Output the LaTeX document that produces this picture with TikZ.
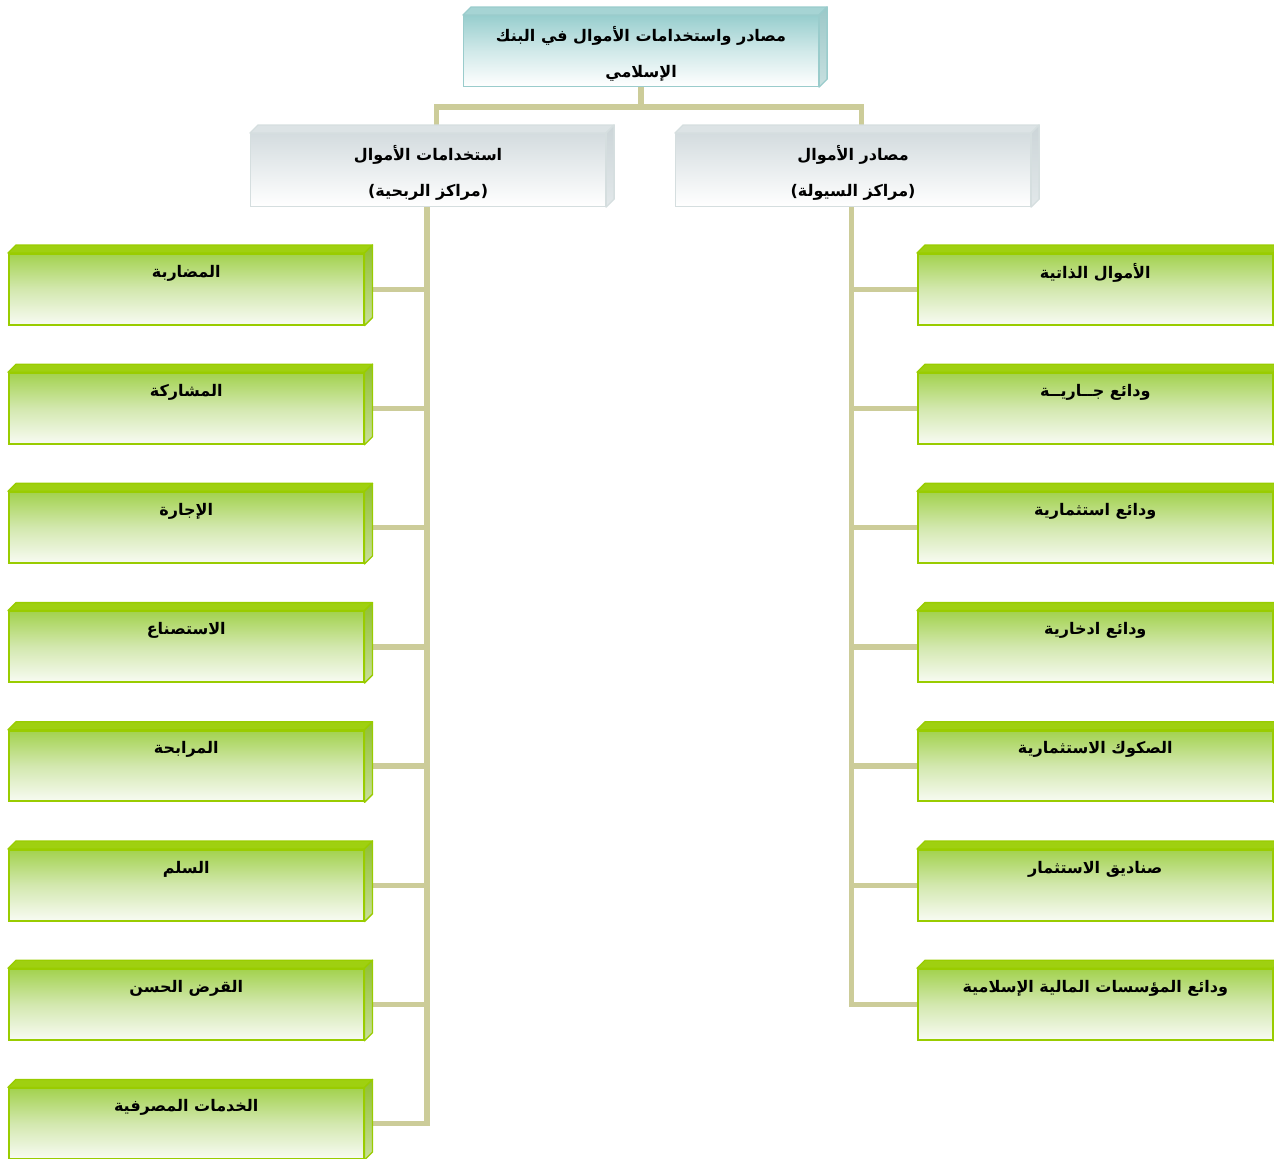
\documentclass[tikz,border=0pt]{standalone}
\usepackage{fontspec}
\newfontfamily\arabicfont[Script=Arabic]{DejaVu Sans}
\TeXXeTstate=1
\pgfdeclarelayer{background}
\pgfsetlayers{background,main}

\definecolor{conncol}{HTML}{CCCC99}
% teal heading box
\definecolor{tfront}{HTML}{98CECE}
\definecolor{ttop}{HTML}{A6D4D4}
\definecolor{tside1}{HTML}{9CC8C8}
\definecolor{tside2}{HTML}{C8E0E0}
\definecolor{tborder}{HTML}{9ACCCC}
% grey second-level boxes
\definecolor{sfront}{HTML}{D4DCDF}
\definecolor{stop}{HTML}{DCE3E5}
\definecolor{sside1}{HTML}{CCD5D8}
\definecolor{sside2}{HTML}{E2E8EA}
\definecolor{sborder}{HTML}{D5DEDF}
% green leaf boxes
\definecolor{gfront}{HTML}{A3D24F}
\definecolor{gmid}{HTML}{D3E8AF}
\definecolor{gbottom}{HTML}{F8FBF3}
\definecolor{gtop}{HTML}{9FD010}
\definecolor{gside1}{HTML}{8FC030}
\definecolor{gside2}{HTML}{C9DF9C}
\definecolor{gborder}{HTML}{99CC00}

\newcommand\artext[1]{\beginR #1\endR}

% top and right faces of a bevelled box
\newcommand\bevelfaces[5]{%
  \filldraw[fill=#3, draw=#2, line width=1pt, line join=round]
    (#1.north west) -- ([shift={(6pt,6pt)}]#1.north west)
    -- ([shift={(6pt,6pt)}]#1.north east) -- (#1.north east) -- cycle;
  \shade[top color=#4, bottom color=#5, draw=#2, line width=1pt, line join=round]
    (#1.north east) -- ([shift={(6pt,6pt)}]#1.north east)
    -- ([shift={(6pt,6pt)}]#1.south east) -- (#1.south east) -- cycle;
}

\tikzset{
  conn/.style={draw=conncol, line width=4pt},
  facebox/.style={anchor=north west, inner sep=0pt, line width=1.1pt,
    minimum width=266pt, minimum height=53pt},
  headbox/.style={facebox, draw=tborder, top color=tfront, bottom color=white,
    middle color=tfront!45!white},
  midbox/.style={facebox, draw=sborder, top color=sfront, bottom color=white,
    middle color=sfront!50!white, minimum height=54.5pt},
  leafbox/.style={facebox, draw=gborder, line width=1.4pt, top color=gfront,
    bottom color=gbottom, middle color=gmid},
  btext/.style={font=\arabicfont\bfseries\fontsize{12}{26.5}\selectfont,
    align=center, text=black, inner sep=0pt},
}

\begin{document}
\begin{tikzpicture}[x=0.75pt, y=-0.75pt]
\useasboundingbox (0,0) rectangle (1274,1158);
\clip (0,0) rectangle (1274,1158);

% heading
\node[headbox] (head) at (463,15) {};
\bevelfaces{head}{tborder}{ttop}{tside1}{tside2}

% second level
\node[midbox] (uses) at (250,133) {};
\bevelfaces{uses}{sborder}{stop}{sside1}{sside2}
\node[midbox] (srcs) at (675,133) {};
\bevelfaces{srcs}{sborder}{stop}{sside1}{sside2}

% leaf boxes: uses of funds (left) and sources of funds (right)
\foreach \i in {1,...,8} {
  \node[leafbox] (l\i) at (8,{253+119.2*(\i-1)}) {};
  \bevelfaces{l\i}{gborder}{gtop}{gside1}{gside2}
}
\foreach \i in {1,...,7} {
  \node[leafbox] (r\i) at (917,{253+119.2*(\i-1)}) {};
  \bevelfaces{r\i}{gborder}{gtop}{gside1}{gside2}
}

% labels
\node[btext] (headl) at ([yshift=-2pt]head.center)
  {\artext{مصادر واستخدامات الأموال في البنك}\\\artext{الإسلامي}};
\node[btext] (usesl) at ([yshift=-2pt]uses.center)
  {\artext{استخدامات الأموال}\\\artext{(مراكز الربحية)}};
\node[btext] (srcsl) at ([yshift=-2pt]srcs.center)
  {\artext{مصادر الأموال}\\\artext{(مراكز السيولة)}};

\foreach \i/\t in {1/المضاربة, 2/المشاركة, 3/الإجارة, 4/الاستصناع,
                   5/المرابحة, 6/السلم, 7/القرض الحسن, 8/الخدمات المصرفية} {
  \node[btext] (l\i t) at ([yshift=-15pt]l\i.north) {\artext{\t}};
}
\foreach \i/\t in {1/الأموال الذاتية, 2/ودائع جــاريــة, 3/ودائع استثمارية,
                   4/ودائع ادخارية, 5/الصكوك الاستثمارية, 6/صناديق الاستثمار,
                   7/ودائع المؤسسات المالية الإسلامية} {
  \node[btext] (r\i t) at ([yshift=-15pt]r\i.north) {\artext{\t}};
}

% connectors
\begin{pgfonlayer}{background}
  \coordinate (usestop) at ([shift={(6.5pt,6pt)}]uses.north);
  \coordinate (srcstop) at ([shift={(6.5pt,6pt)}]srcs.north);
  \coordinate (usesfoot) at ([xshift=-0.8pt]uses.south);
  \coordinate (srcsfoot) at ([xshift=-1.2pt]srcs.south);
  \draw[conn] (head.south) -- ++(0,20) coordinate (split);
  \draw[conn] (usestop) |- (split) -| (srcstop);
  \draw[conn] (usesfoot) |- ([xshift=6pt]l8.east);
  \foreach \i in {1,...,7}
    \draw[conn] (usesfoot |- l\i.east) -- ([xshift=6pt]l\i.east);
  \draw[conn] (srcsfoot) |- (r7.west);
  \foreach \i in {1,...,6}
    \draw[conn] (srcsfoot |- r\i.west) -- (r\i.west);
\end{pgfonlayer}
\end{tikzpicture}
\end{document}
